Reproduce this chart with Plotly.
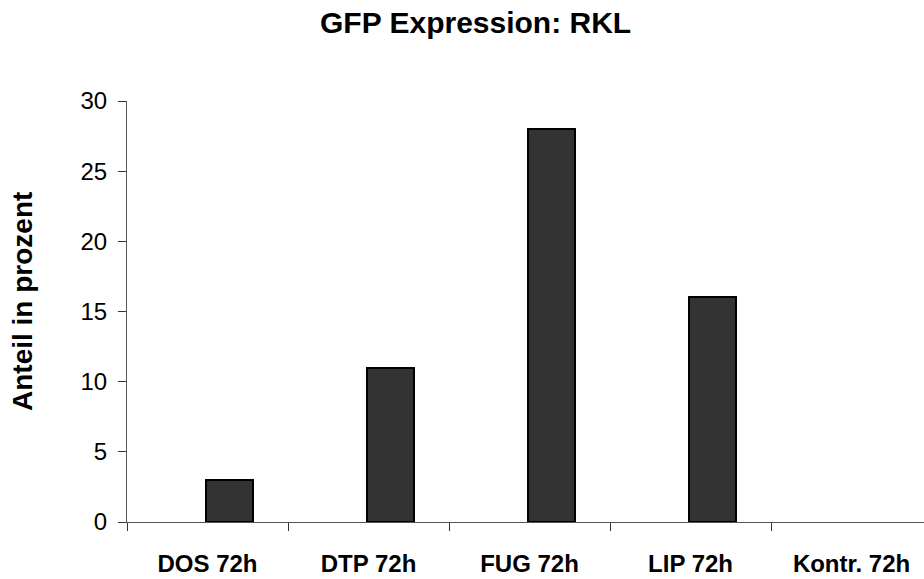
import plotly.graph_objects as go

# Data
categories = ["DOS 72h", "DTP 72h", "FUG 72h", "LIP 72h", "Kontr. 72h"]
values = [3, 11, 28, 16, 0]
y_ticks = [0, 5, 10, 15, 20, 25, 30]

title_text = "GFP Expression: RKL"
y_title = "Anteil in prozent"

font_family = "Liberation Sans, Arial, sans-serif"

# no outline for empty bars
outline_widths = [2 if v > 0 else 0 for v in values]

fig = go.Figure()
fig.add_trace(go.Bar(
    x=categories,
    y=values,
    offset=-0.01,
    width=0.29,
    marker=dict(color="#333333", line=dict(color="#000000", width=outline_widths)),
    showlegend=False,
    hoverinfo="x+y",
))

# page size and plot-area margins in pixels
W, H = 924, 579
L, R, T, B = 127, 0, 101, 57
pw, ph = W - L - R, H - T - B


def px_to_paper(px, py):
    return (px - L) / pw, 1 - (py - T) / ph


tx, ty = px_to_paper(475, 22)
ax_, ay_ = px_to_paper(22, 302)

fig.update_layout(
    width=W,
    height=H,
    margin=dict(l=L, r=R, t=T, b=B),
    paper_bgcolor="white",
    plot_bgcolor="white",
    font=dict(family=font_family, color="#000000"),
    bargap=0,
    annotations=[
        dict(text="<b>" + title_text + "</b>", x=tx, y=ty, xref="paper", yref="paper",
             xanchor="center", yanchor="middle", showarrow=False,
             font=dict(size=30, family=font_family)),
        dict(text="<b>" + y_title + "</b>", x=ax_, y=ay_, xref="paper", yref="paper",
             xanchor="center", yanchor="middle", textangle=-90, showarrow=False,
             font=dict(size=28, family=font_family)),
    ],
)

fig.update_xaxes(
    type="category",
    range=[-0.5, 4.45],
    showline=True,
    linecolor="#555555",
    linewidth=1,
    ticks="outside",
    tickson="boundaries",
    ticklen=8,
    tickcolor="#333333",
    tickwidth=1,
    showgrid=False,
    zeroline=False,
    tickfont=dict(size=24, family=font_family, color="#000000", weight="bold"),
    ticklabelstandoff=20,
)
fig.update_yaxes(
    range=[0, 30],
    tickvals=y_ticks,
    showline=True,
    linecolor="#555555",
    linewidth=1,
    ticks="outside",
    ticklen=8,
    tickcolor="#333333",
    tickwidth=1,
    showgrid=False,
    zeroline=False,
    tickfont=dict(size=24, family=font_family, color="#000000"),
    ticklabelstandoff=6,
)

fig.write_html("out.html")
